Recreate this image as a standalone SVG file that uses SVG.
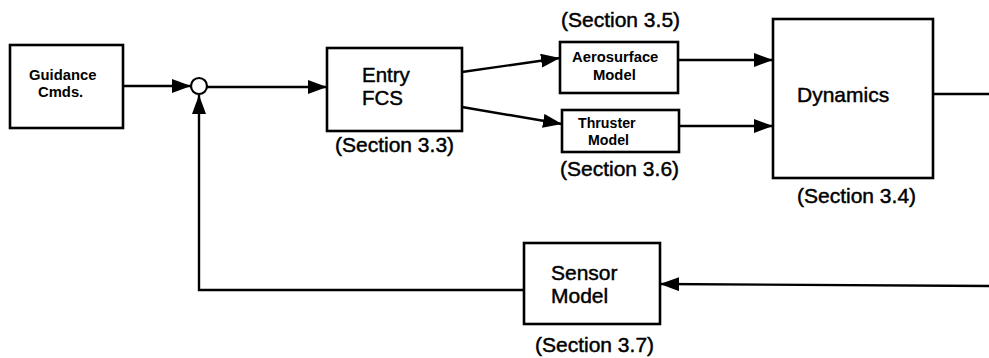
<svg xmlns="http://www.w3.org/2000/svg" width="989" height="358" viewBox="0 0 989 358">
<style>
.box{fill:#fff;stroke:#000;stroke-width:2.6}
.ln{fill:none;stroke:#000;stroke-width:2.4}
text{font-family:"Liberation Sans",Arial,sans-serif;fill:#000}
.s{font-size:21px;stroke:#000;stroke-width:0.45}
.m{font-size:14.8px;font-weight:bold}
</style>
<defs>
<marker id="ah" markerUnits="userSpaceOnUse" markerWidth="20" markerHeight="16" refX="19" refY="7" orient="auto">
<path d="M0,0 L19,7 L0,14 Z" fill="#000"/>
</marker>
</defs>
<rect width="989" height="358" fill="#fff"/>
<g id="connectors">
<line class="ln" x1="123" y1="86" x2="191" y2="86" marker-end="url(#ah)"/>
<line class="ln" x1="207" y1="87" x2="327" y2="87" marker-end="url(#ah)"/>
<line class="ln" x1="462" y1="72" x2="560" y2="58" marker-end="url(#ah)"/>
<line class="ln" x1="462" y1="107" x2="562" y2="124" marker-end="url(#ah)"/>
<line class="ln" x1="678" y1="60" x2="773" y2="60" marker-end="url(#ah)"/>
<line class="ln" x1="679" y1="126" x2="773" y2="126" marker-end="url(#ah)"/>
<line class="ln" x1="933" y1="94" x2="989" y2="94"/>
<line class="ln" x1="989" y1="286" x2="660" y2="284" marker-end="url(#ah)"/>
<polyline class="ln" points="524,290 199,290 199,95" marker-end="url(#ah)"/>
</g>
<g id="guidance">
<rect class="box" x="10" y="45" width="113" height="83"/>
<text class="m" x="29" y="80">Guidance</text>
<text class="m" x="38" y="97">Cmds.</text>
</g>
<g id="sum">
<circle cx="199" cy="86" r="8" fill="#fff" stroke="#000" stroke-width="2.2"/>
</g>
<g id="entry-fcs">
<rect class="box" x="327" y="48" width="135" height="83"/>
<text class="s" style="font-size:20.5px" x="362" y="82">Entry</text>
<text class="s" style="font-size:20.5px" x="362" y="105">FCS</text>
<text class="s" x="335" y="152">(Section 3.3)</text>
</g>
<g id="aerosurface">
<text class="s" x="561" y="27">(Section 3.5)</text>
<rect class="box" x="560" y="42" width="118" height="51"/>
<text class="m" x="572" y="62">Aerosurface</text>
<text class="m" x="593" y="80">Model</text>
</g>
<g id="thruster">
<rect class="box" x="562" y="110" width="117" height="42"/>
<text class="m" style="font-size:14.2px" x="578" y="128">Thruster</text>
<text class="m" style="font-size:14.2px" x="588" y="145">Model</text>
<text class="s" x="560" y="176">(Section 3.6)</text>
</g>
<g id="dynamics">
<rect class="box" x="773" y="19" width="160" height="159"/>
<text class="s" x="797" y="102">Dynamics</text>
<text class="s" x="797" y="203">(Section 3.4)</text>
</g>
<g id="sensor">
<rect class="box" x="524" y="243" width="136" height="81"/>
<text class="s" x="551" y="280">Sensor</text>
<text class="s" x="551" y="303">Model</text>
<text class="s" x="535" y="352">(Section 3.7)</text>
</g>
</svg>
